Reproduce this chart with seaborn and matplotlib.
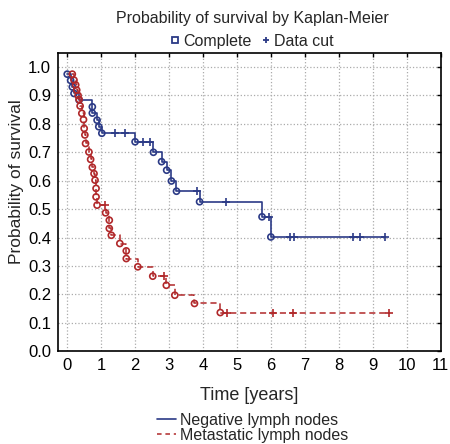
import numpy as np
import pandas as pd
import matplotlib
matplotlib.use("Agg")
import matplotlib.pyplot as plt
from matplotlib.lines import Line2D
import seaborn as sns

# Datos (tiempo en años, supervivencia)
neg_tiempo = [0.0, 0.1, 0.15, 0.2, 0.35, 0.74, 0.74, 0.88, 0.93, 1.02, 2.0, 2.54,
              2.78, 2.93, 3.07, 3.22, 3.9, 5.74, 6.0]
neg_surv = [0.975, 0.953, 0.93, 0.907, 0.884, 0.86, 0.838, 0.813, 0.79, 0.767, 0.737,
            0.70, 0.667, 0.637, 0.599, 0.563, 0.526, 0.473, 0.402]
neg_fin = 9.37
neg_cens_t = [1.42, 1.71, 2.24, 2.44, 3.82, 4.67, 5.94, 6.57, 6.69, 8.43, 8.63, 9.37]
neg_cens_s = [0.767, 0.767, 0.737, 0.737, 0.563, 0.526, 0.473, 0.402, 0.402, 0.402,
              0.402, 0.402]

met_tiempo = [0.15, 0.2, 0.25, 0.28, 0.32, 0.35, 0.38, 0.43, 0.48, 0.5, 0.52, 0.54,
              0.64, 0.69, 0.74, 0.79, 0.82, 0.85, 0.85, 0.88, 1.13, 1.24, 1.24, 1.30,
              1.55, 1.74, 1.74, 2.08, 2.52, 2.92, 3.17, 3.75, 4.51]
met_surv = [0.975, 0.954, 0.937, 0.919, 0.90, 0.886, 0.863, 0.837, 0.815, 0.784, 0.761,
            0.731, 0.701, 0.675, 0.647, 0.625, 0.602, 0.573, 0.543, 0.514, 0.487, 0.461,
            0.432, 0.408, 0.379, 0.353, 0.326, 0.297, 0.264, 0.232, 0.197, 0.168, 0.136]
met_fin = 9.47
met_cens_t = [1.1, 2.86, 4.70, 6.06, 6.65, 9.47]
met_cens_s = [0.514, 0.264, 0.136, 0.136, 0.136, 0.136]

x_ticks = list(range(0, 12))
y_ticks = [i / 10 for i in range(0, 11)]

AZUL = "#2b3a86"
ROJO = "#b0282a"

sns.set_style("white")
plt.rcParams['font.family'] = ['Liberation Sans', 'DejaVu Sans']


def curva_escalonada(tiempo, surv, fin):
    return pd.DataFrame({"t": list(tiempo) + [fin], "s": list(surv) + [surv[-1]]})


fig = plt.figure(figsize=(4.5, 4.44), dpi=100)
ax = fig.add_axes([0.129, 0.209, 0.850, 0.672])

# curvas escalonadas
neg_df = curva_escalonada(neg_tiempo, neg_surv, neg_fin)
met_df = curva_escalonada(met_tiempo, met_surv, met_fin)
sns.lineplot(data=neg_df, x="t", y="s", ax=ax, color=AZUL, lw=1.2,
             drawstyle="steps-post", estimator=None, sort=False)
sns.lineplot(data=met_df, x="t", y="s", ax=ax, color=ROJO, lw=1.1,
             drawstyle="steps-post", estimator=None, sort=False, dashes=False)
ax.lines[-1].set_dashes((4, 2.5))

# eventos completos
sns.scatterplot(x=neg_tiempo, y=neg_surv, ax=ax, marker="o", s=19,
                facecolor="none", edgecolor=AZUL, linewidth=1.2, zorder=3)
sns.scatterplot(x=met_tiempo, y=met_surv, ax=ax, marker="o", s=19,
                facecolor="none", edgecolor=ROJO, linewidth=1.2, zorder=3)
# datos censurados
sns.scatterplot(x=neg_cens_t, y=neg_cens_s, ax=ax, marker="+", s=26,
                color=AZUL, linewidth=1.2, zorder=3)
sns.scatterplot(x=met_cens_t, y=met_cens_s, ax=ax, marker="+", s=26,
                color=ROJO, linewidth=1.2, zorder=3)

ax.set_xlim(-0.27, 11.0)
ax.set_ylim(0, 1.05)
ax.set_xticks(x_ticks)
ax.set_yticks(y_ticks)
ax.set_yticklabels([f"{v:.1f}" for v in y_ticks])
ax.tick_params(direction="in", length=3, width=1, labelsize=12, pad=5,
               top=True, right=True, colors="black")
ax.grid(True, linestyle=":", color="#ababab", lw=0.9)
for sp in ax.spines.values():
    sp.set_color("black")
    sp.set_linewidth(1.2)

ax.set_xlabel("Time [years]", fontsize=13, labelpad=10)
ax.set_ylabel("Probability of survival", fontsize=12.5)
ax.yaxis.set_label_coords(-0.09, 0.57)

fig.text(0.56, 0.958, "Probability of survival by Kaplan-Meier", ha="center",
         va="center", fontsize=11.5)

top_handles = [
    Line2D([], [], ls="none", marker="s", ms=4.5, mfc="none", mec=AZUL, mew=1.3),
    Line2D([], [], ls="none", marker="+", ms=5, color=AZUL, mew=1.3),
]
fig.legend(top_handles, ["Complete", "Data cut"], loc="center",
           bbox_to_anchor=(0.56, 0.907), ncol=2, frameon=False, fontsize=11.5,
           handlelength=0.6, handletextpad=0.2, columnspacing=0.6,
           borderpad=0, borderaxespad=0)

bot_handles = [
    Line2D([], [], color=AZUL, lw=1.2),
    Line2D([], [], color=ROJO, lw=1.1, dashes=(3, 2.5)),
]
fig.legend(bot_handles, ["Negative lymph nodes", "Metastatic lymph nodes"],
           loc="center", bbox_to_anchor=(0.561, 0.036), frameon=False,
           fontsize=11.5, handlelength=1.2, handletextpad=0.2, labelspacing=0.0,
           borderpad=0, borderaxespad=0)

fig.savefig("out.png", dpi=100)
